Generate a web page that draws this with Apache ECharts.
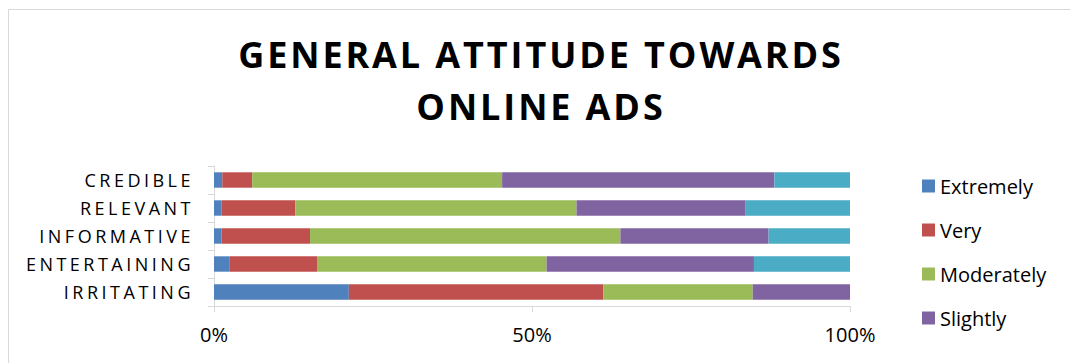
<!DOCTYPE html>
<html>
<head>
<meta charset="utf-8">
<script src="https://cdn.jsdelivr.net/npm/echarts@6/dist/echarts.min.js"></script>
<style>
  html, body { margin: 0; padding: 0; background: #ffffff; }
  #chart { width: 1070px; height: 363px; }
  /* spaced capitals for the title and the category labels */
  #chart text[style*="DejaVu"] { letter-spacing: 2.9px; }
  #chart text[style*="Liberation"] { letter-spacing: 3.5px; }
</style>
</head>
<body>
<div id="chart"></div>
<script>
// Share of respondents (%) per attitude level, one entry per statement
const categories = ['CREDIBLE', 'RELEVANT', 'INFORMATIVE', 'ENTERTAINING', 'IRRITATING'];
const extremely  = [1.3, 1.2, 1.2, 2.4, 21.2];
const very       = [4.7, 11.6, 13.9, 13.8, 40.0];
const moderately = [39.3, 44.2, 48.8, 36.1, 23.5];
const slightly   = [42.8, 26.6, 23.3, 32.6, 15.3];
const notAtAll   = [11.9, 16.4, 12.8, 15.1, 0];
const xTicks = [0, 50, 100];

const seriesDefs = [
  { name: 'Extremely',  data: extremely,  color: '#4F81BD' },
  { name: 'Very',       data: very,       color: '#C0504D' },
  { name: 'Moderately', data: moderately, color: '#9BBB59' },
  { name: 'Slightly',   data: slightly,   color: '#8064A2' },
  { name: 'Not at all', data: notAtAll,   color: '#4BACC6' }
];

const chart = echarts.init(document.getElementById('chart'), null, { renderer: 'svg' });

chart.setOption({
  backgroundColor: '#ffffff',
  animation: false,
  title: {
    text: 'GENERAL ATTITUDE TOWARDS\nONLINE ADS',
    left: 536,
    top: 23,
    textAlign: 'center',
    textStyle: {
      fontFamily: "'Open Sans', 'DejaVu Sans'",
      fontWeight: 'bold',
      fontSize: 36,
      lineHeight: 52,
      color: '#000000'
    }
  },
  graphic: [{
    type: 'rect',
    silent: true,
    shape: { x: 8.5, y: 9.5, width: 1200, height: 500 },
    style: { fill: 'none', stroke: '#d9d9d9', lineWidth: 1 }
  }],
  legend: {
    orient: 'vertical',
    left: 917,
    top: 171,
    itemWidth: 13,
    itemHeight: 13,
    itemGap: 24,
    icon: 'rect',
    data: ['Extremely', 'Very', 'Moderately', 'Slightly'],
    textStyle: { fontFamily: "'Open Sans', sans-serif", fontSize: 20, color: '#000000' }
  },
  grid: { left: 214, right: 220, top: 166, height: 140 },
  xAxis: {
    type: 'value',
    min: 0,
    max: 100,
    interval: 50,
    axisLine: { show: true, lineStyle: { color: '#d9d9d9' } },
    axisTick: { show: true, length: 6, lineStyle: { color: '#d9d9d9' } },
    splitLine: { show: false },
    axisLabel: {
      margin: 18,
      fontFamily: "'Open Sans', sans-serif",
      fontSize: 20,
      color: '#000000',
      formatter: v => (xTicks.includes(v) ? v + '%' : '')
    }
  },
  yAxis: {
    type: 'category',
    data: categories,
    inverse: true,
    axisLine: { show: true, lineStyle: { color: '#d9d9d9' } },
    axisTick: { show: true, length: 6, lineStyle: { color: '#d9d9d9' } },
    axisLabel: {
      margin: 20,
      fontFamily: "'Open Sans', 'Liberation Sans'",
      fontSize: 18,
      color: '#000000'
    }
  },
  series: seriesDefs.map(s => ({
    name: s.name,
    type: 'bar',
    stack: 'total',
    data: s.data,
    barWidth: '55%',
    itemStyle: { color: s.color },
    emphasis: { disabled: true }
  }))
});
</script>
</body>
</html>
